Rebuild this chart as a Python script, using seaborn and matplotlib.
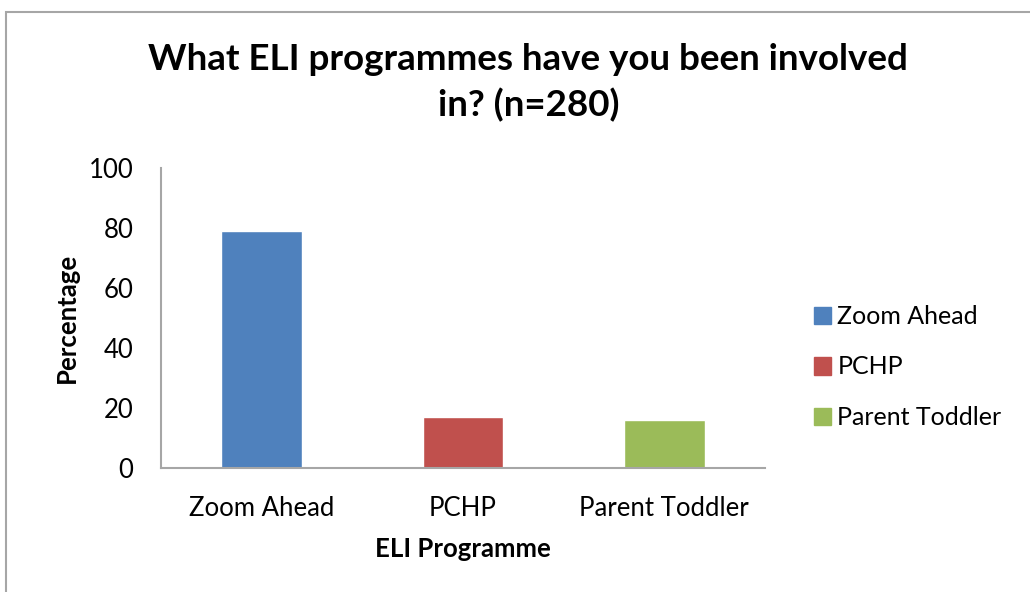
import matplotlib
matplotlib.use("Agg")
import matplotlib.pyplot as plt
import seaborn as sns
import pandas as pd
from matplotlib.patches import Rectangle, Patch

categories = ["Zoom Ahead", "PCHP", "Parent Toddler"]
percentages = [79, 17, 16]
colors = ["#4F81BD", "#C0504D", "#9BBB59"]
yticks = [0, 20, 40, 60, 80, 100]

sns.set_style("white")
plt.rcParams['font.family'] = ['Lato', 'DejaVu Sans']
plt.rcParams['text.color'] = 'black'
plt.rcParams['axes.labelcolor'] = 'black'
plt.rcParams['xtick.color'] = 'black'
plt.rcParams['ytick.color'] = 'black'

df = pd.DataFrame({"Programme": categories, "Percentage": percentages})

fig = plt.figure(figsize=(10.30, 5.92), dpi=100)
ax = fig.add_axes([161/1030, 1-468/592, (765-161)/1030, 300/592])

sns.barplot(data=df, x="Programme", y="Percentage", hue="Programme",
            palette=dict(zip(categories, colors)), width=0.4, dodge=False,
            legend=False, ax=ax, saturation=1)

ax.set_ylim(0, 100)
ax.set_yticks(yticks)
ax.set_xlim(-0.5, 2.5)
ax.tick_params(axis='both', length=0, labelsize=18.5, colors='black')
ax.tick_params(axis='y', pad=20)
ax.tick_params(axis='x', pad=20)
for s in ["top", "right"]:
    ax.spines[s].set_visible(False)
for s in ["left", "bottom"]:
    ax.spines[s].set_color("#A6A6A6")
    ax.spines[s].set_linewidth(1.5)
ax.set_xlabel("ELI Programme", fontsize=18.5, fontweight="bold", labelpad=12, color='black')
ax.set_ylabel("Percentage", fontsize=18.5, fontweight="bold", labelpad=7, color='black')

fig.text(0.513, 1-60/592, "What ELI programmes have you been involved",
         ha="center", va="center", fontsize=26.5, fontweight="bold", color='black')
fig.text(0.513, 1-105/592, "in? (n=280)",
         ha="center", va="center", fontsize=26.5, fontweight="bold", color='black')

handles = [Patch(facecolor=c, edgecolor=c) for c in colors]
fig.legend(handles, categories, loc="center left",
           bbox_to_anchor=(791/1030, 1-367/592), frameon=False,
           fontsize=18, handlelength=0.7, handleheight=0.7,
           handletextpad=0.25, labelspacing=1.1)

fig.add_artist(Rectangle((6/1030, -0.05), 1.1, 1-12/592+0.05,
                         transform=fig.transFigure, fill=False,
                         edgecolor="#A6A6A6", linewidth=1.5))

fig.savefig("out.png", dpi=100)
